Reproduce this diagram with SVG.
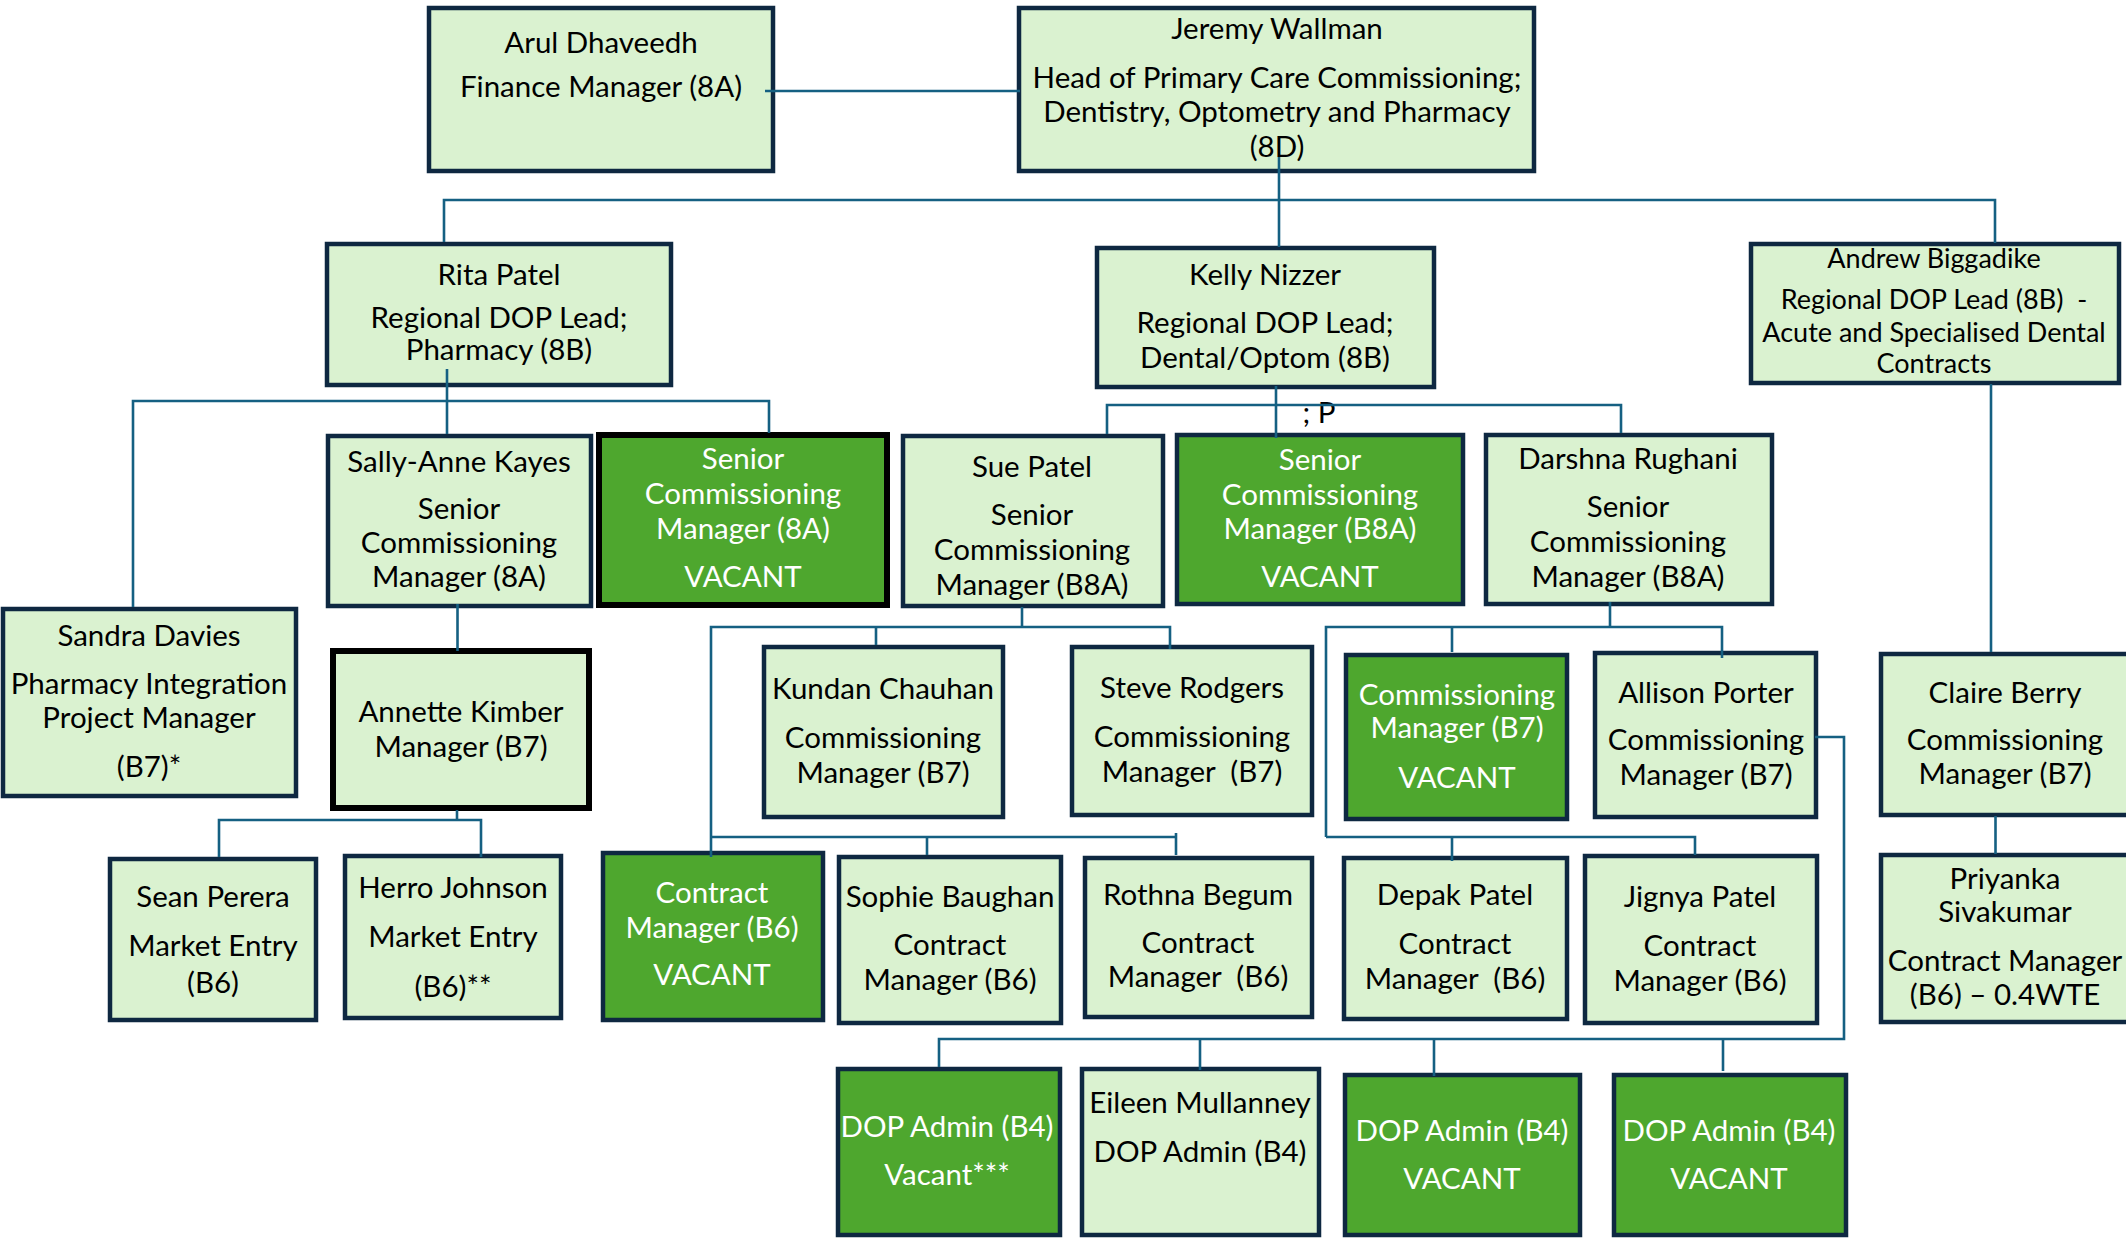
<svg xmlns="http://www.w3.org/2000/svg" width="2126" height="1239" viewBox="0 0 2126 1239">
<style>
  .n rect{fill:#DAF2D0;stroke:#0E2841;stroke-width:4.5}
  .v rect{fill:#4EA72E;stroke:#0E2841;stroke-width:4.5}
  .vk rect{fill:#4EA72E;stroke:#000;stroke-width:6}
  .nk rect{fill:#DAF2D0;stroke:#000;stroke-width:6}
  text{font-family:Lato,"Open Sans",sans-serif;font-size:29.5px;text-anchor:middle;fill:#000}
  .v text,.vk text{fill:#fff}
  .s text{font-size:27px}
  .c path{fill:none;stroke:#156082;stroke-width:2.6}
</style>
<rect width="2126" height="1239" fill="#fff"/>
<g id="arul" class="n"><rect x="429" y="8" width="344" height="163"/><text x="601" y="53">Arul Dhaveedh</text><text x="601" y="97">Finance Manager (8A)</text></g>
<g id="jeremy" class="n"><rect x="1019" y="8" width="515" height="163"/><text x="1277" y="39">Jeremy Wallman</text><text x="1277" y="88">Head of Primary Care Commissioning;</text><text x="1277" y="122">Dentistry, Optometry and Pharmacy</text><text x="1277" y="157">(8D)</text></g>
<g id="rita" class="n"><rect x="327" y="244" width="344" height="141"/><text x="499" y="285">Rita Patel</text><text x="499" y="328">Regional DOP Lead;</text><text x="499" y="360">Pharmacy (8B)</text></g>
<g id="kelly" class="n"><rect x="1097" y="248" width="337" height="139"/><text x="1265" y="285">Kelly Nizzer</text><text x="1265" y="333">Regional DOP Lead;</text><text x="1265" y="368">Dental/Optom (8B)</text></g>
<g id="andrew" class="n s"><rect x="1751" y="244" width="368" height="139"/><text x="1934" y="268">Andrew Biggadike</text><text x="1934" y="309" xml:space="preserve">Regional DOP Lead (8B)  -</text><text x="1934" y="342">Acute and Specialised Dental</text><text x="1934" y="373">Contracts</text></g>
<g id="sally" class="n"><rect x="328" y="436" width="263" height="170"/><text x="459" y="472">Sally-Anne Kayes</text><text x="459" y="519">Senior</text><text x="459" y="553">Commissioning</text><text x="459" y="587">Manager (8A)</text></g>
<g id="scm-8a-vacant" class="vk"><rect x="599" y="435" width="288" height="170"/><text x="743" y="469">Senior</text><text x="743" y="504">Commissioning</text><text x="743" y="539">Manager (8A)</text><text x="743" y="587">VACANT</text></g>
<g id="sandra" class="n"><rect x="3" y="609" width="293" height="187"/><text x="149" y="646">Sandra Davies</text><text x="149" y="694">Pharmacy Integration</text><text x="149" y="728">Project Manager</text><text x="149" y="777">(B7)*</text></g>
<g id="annette" class="nk"><rect x="333" y="651" width="256" height="157"/><text x="461" y="722">Annette Kimber</text><text x="461" y="757">Manager (B7)</text></g>
<g id="sean" class="n"><rect x="110" y="859" width="206" height="161"/><text x="213" y="907">Sean Perera</text><text x="213" y="956">Market Entry</text><text x="213" y="993">(B6)</text></g>
<g id="herro" class="n"><rect x="345" y="856" width="216" height="162"/><text x="453" y="898">Herro Johnson</text><text x="453" y="947">Market Entry</text><text x="453" y="997">(B6)**</text></g>
<g id="sue" class="n"><rect x="903" y="436" width="260" height="170"/><text x="1032" y="477">Sue Patel</text><text x="1032" y="525">Senior</text><text x="1032" y="560">Commissioning</text><text x="1032" y="595">Manager (B8A)</text></g>
<g id="scm-b8a-vacant" class="v"><rect x="1177" y="435" width="286" height="169"/><text x="1320" y="470">Senior</text><text x="1320" y="505">Commissioning</text><text x="1320" y="539">Manager (B8A)</text><text x="1320" y="587">VACANT</text></g>
<g id="darshna" class="n"><rect x="1486" y="435" width="286" height="169"/><text x="1628" y="469">Darshna Rughani</text><text x="1628" y="517">Senior</text><text x="1628" y="552">Commissioning</text><text x="1628" y="587">Manager (B8A)</text></g>
<g id="kundan" class="n"><rect x="764" y="647" width="239" height="170"/><text x="883" y="699">Kundan Chauhan</text><text x="883" y="748">Commissioning</text><text x="883" y="783">Manager (B7)</text></g>
<g id="steve" class="n"><rect x="1072" y="647" width="240" height="168"/><text x="1192" y="698">Steve Rodgers</text><text x="1192" y="747">Commissioning</text><text x="1192" y="782" xml:space="preserve">Manager  (B7)</text></g>
<g id="cm-b7-vacant" class="v"><rect x="1346" y="655" width="221" height="164"/><text x="1457" y="705">Commissioning</text><text x="1457" y="738">Manager (B7)</text><text x="1457" y="788">VACANT</text></g>
<g id="allison" class="n"><rect x="1595" y="653" width="221" height="164"/><text x="1706" y="703">Allison Porter</text><text x="1706" y="750">Commissioning</text><text x="1706" y="785">Manager (B7)</text></g>
<g id="claire" class="n"><rect x="1881" y="654" width="260" height="161"/><text x="2005" y="703">Claire Berry</text><text x="2005" y="750">Commissioning</text><text x="2005" y="784">Manager (B7)</text></g>
<g id="cm-b6-vacant" class="v"><rect x="603" y="853" width="220" height="167"/><text x="712" y="903">Contract</text><text x="712" y="938">Manager (B6)</text><text x="712" y="985">VACANT</text></g>
<g id="sophie" class="n"><rect x="839" y="857" width="222" height="166"/><text x="950" y="907">Sophie Baughan</text><text x="950" y="955">Contract</text><text x="950" y="990">Manager (B6)</text></g>
<g id="rothna" class="n"><rect x="1085" y="858" width="227" height="159"/><text x="1198" y="905">Rothna Begum</text><text x="1198" y="953">Contract</text><text x="1198" y="987" xml:space="preserve">Manager  (B6)</text></g>
<g id="depak" class="n"><rect x="1344" y="858" width="223" height="161"/><text x="1455" y="905">Depak Patel</text><text x="1455" y="954">Contract</text><text x="1455" y="989" xml:space="preserve">Manager  (B6)</text></g>
<g id="jignya" class="n"><rect x="1585" y="856" width="232" height="167"/><text x="1700" y="907">Jignya Patel</text><text x="1700" y="956">Contract</text><text x="1700" y="991">Manager (B6)</text></g>
<g id="priyanka" class="n"><rect x="1881" y="855" width="260" height="167"/><text x="2005" y="889">Priyanka</text><text x="2005" y="922">Sivakumar</text><text x="2005" y="971">Contract Manager</text><text x="2005" y="1005">(B6) – 0.4WTE</text></g>
<g id="dop-admin-1" class="v"><rect x="838" y="1069" width="222" height="166"/><text x="947" y="1137">DOP Admin (B4)</text><text x="947" y="1185">Vacant***</text></g>
<g id="eileen" class="n"><rect x="1082" y="1069" width="237" height="166"/><text x="1200" y="1113">Eileen Mullanney</text><text x="1200" y="1162">DOP Admin (B4)</text></g>
<g id="dop-admin-3" class="v"><rect x="1345" y="1075" width="235" height="160"/><text x="1462" y="1141">DOP Admin (B4)</text><text x="1462" y="1189">VACANT</text></g>
<g id="dop-admin-4" class="v"><rect x="1614" y="1075" width="232" height="160"/><text x="1729" y="1141">DOP Admin (B4)</text><text x="1729" y="1189">VACANT</text></g>
<text x="1319" y="423" xml:space="preserve">; P</text>
<g id="connectors" class="c">
  <path d="M765,91 H1020"/>
  <path d="M1279,157 V247"/>
  <path d="M444,242 V200 H1995 V243"/>
  <path d="M447,369 V434"/>
  <path d="M133,607 V401 H769 V433"/>
  <path d="M457.5,604 V651"/>
  <path d="M457,810 V820"/>
  <path d="M219,857 V820 H481 V857"/>
  <path d="M1276,386 V438"/>
  <path d="M1107,434 V405 H1621 V433"/>
  <path d="M1022,607 V628"/>
  <path d="M711,857 V627 H1170 V649"/>
  <path d="M876,627 V645"/>
  <path d="M711,837 H1176"/>
  <path d="M1176,833 V855"/>
  <path d="M927,837 V855"/>
  <path d="M1610,602 V627"/>
  <path d="M1326,837 V627 H1722 V658"/>
  <path d="M1452,627 V652"/>
  <path d="M1326,837 H1695 V855"/>
  <path d="M1452,837 V861"/>
  <path d="M1815,737 H1844 V1039 H939 V1067"/>
  <path d="M1200,1039 V1070"/>
  <path d="M1434,1039 V1076"/>
  <path d="M1723,1039 V1071"/>
  <path d="M1991,384 V652"/>
  <path d="M1995.5,816 V854"/>
</g>
</svg>
